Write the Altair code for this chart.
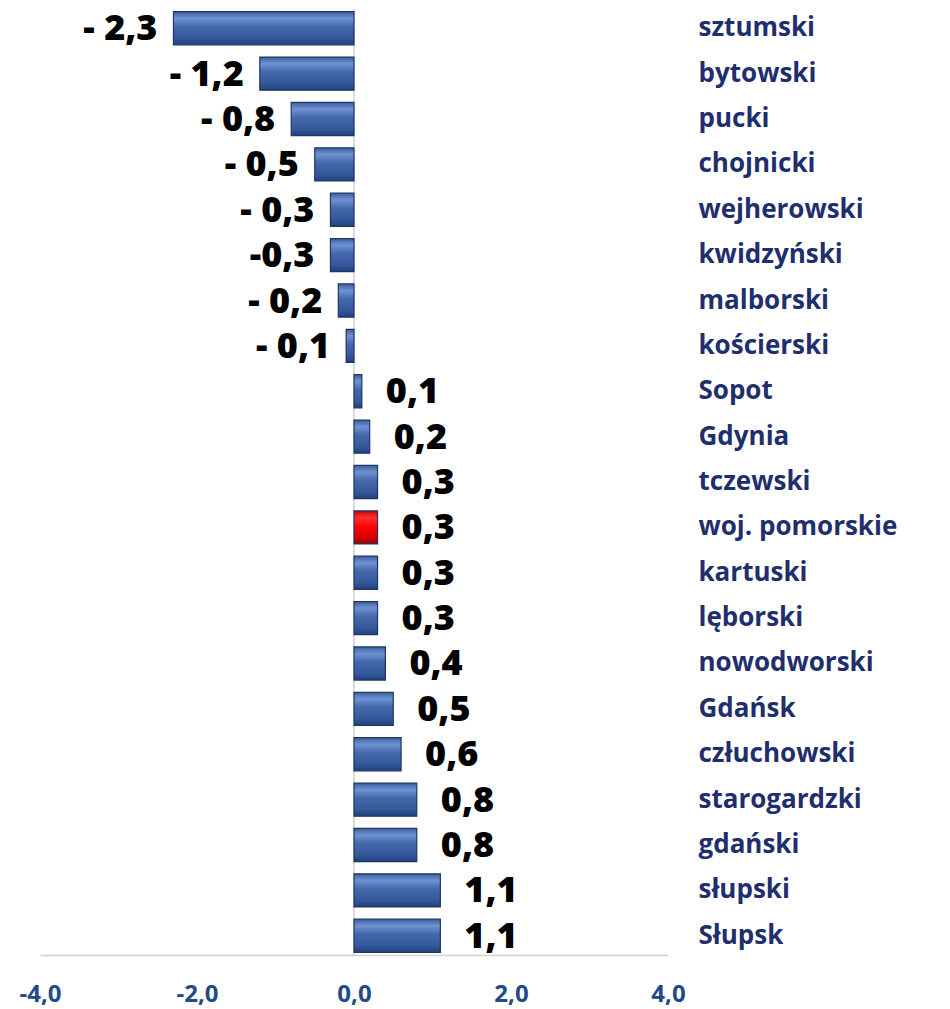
import altair as alt
import pandas as pd

regions = ["sztumski", "bytowski", "pucki", "chojnicki", "wejherowski", "kwidzyński",
           "malborski", "kościerski", "Sopot", "Gdynia", "tczewski", "woj. pomorskie",
           "kartuski", "lęborski", "nowodworski", "Gdańsk", "człuchowski", "starogardzki",
           "gdański", "słupski", "Słupsk"]
values = [-2.3, -1.2, -0.8, -0.5, -0.3, -0.3, -0.2, -0.1, 0.1, 0.2, 0.3, 0.3,
          0.3, 0.3, 0.4, 0.5, 0.6, 0.8, 0.8, 1.1, 1.1]
labels = ["- 2,3", "- 1,2", "- 0,8", "- 0,5", "- 0,3", "-0,3", "- 0,2", "- 0,1",
          "0,1", "0,2", "0,3", "0,3", "0,3", "0,3", "0,4", "0,5", "0,6", "0,8",
          "0,8", "1,1", "1,1"]
highlight = "woj. pomorskie"
tick_values = [-4, -2, 0, 2, 4]

df = pd.DataFrame({"region": regions, "value": values, "label": labels})
df["hl"] = df["region"] == highlight

FONT = "Open Sans"

x_scale = alt.Scale(domain=[-4, 4], nice=False, zero=False)
y_enc = alt.Y("region:N", sort=regions,
              scale=alt.Scale(paddingInner=0.27, paddingOuter=0.06),
              axis=alt.Axis(orient="right", title=None, domain=False, ticks=False,
                            labelPadding=30, labelAlign="left", labelFont=FONT,
                            labelFontSize=26, labelFontWeight="bold",
                            labelLimit=400, labelColor="#1F2F6E"))
x_enc = alt.X("value:Q", scale=x_scale,
              axis=alt.Axis(title=None, values=tick_values, grid=False,
                            ticks=False, domainColor="#D0D0D0", domainWidth=1.5,
                            labelFlush=False, labelOverlap=False,
                            labelPadding=27, labelFont=FONT, labelFontSize=24,
                            labelFontWeight="bold", labelColor="#234A86",
                            labelExpr="replace(replace(format(datum.value, '.1f'), '.', ','), '\u2212', '-')"))

blue_grad = alt.LinearGradient(
    gradient="linear", x1=0, x2=0, y1=0, y2=1,
    stops=[alt.GradientStop(color="#3C5E9E", offset=0),
           alt.GradientStop(color="#6F93D2", offset=0.2),
           alt.GradientStop(color="#4468AC", offset=0.45),
           alt.GradientStop(color="#34589A", offset=0.8),
           alt.GradientStop(color="#22407A", offset=1)])
red_grad = alt.LinearGradient(
    gradient="linear", x1=0, x2=0, y1=0, y2=1,
    stops=[alt.GradientStop(color="#C00000", offset=0),
           alt.GradientStop(color="#FF3030", offset=0.2),
           alt.GradientStop(color="#FF0000", offset=0.5),
           alt.GradientStop(color="#D00000", offset=0.85),
           alt.GradientStop(color="#900000", offset=1)])

base = alt.Chart(df)

zero_rule = alt.Chart(pd.DataFrame({"z": [0]})).mark_rule(
    color="#D0D0D0", strokeWidth=1.5).encode(x=alt.X("z:Q", scale=x_scale))

bars_blue = base.transform_filter("!datum.hl").mark_bar(
    color=blue_grad, stroke="#1E3866", strokeWidth=1.2).encode(
    x=x_enc, x2=alt.datum(0), y=y_enc)
bars_red = base.transform_filter("datum.hl").mark_bar(
    color=red_grad, stroke="#1E3866", strokeWidth=1.2).encode(
    x=x_enc, x2=alt.datum(0), y=y_enc)

text_pos = base.transform_filter("datum.value > 0").mark_text(
    align="left", baseline="middle", dx=24, dy=1, font=FONT, fontSize=36,
    fontWeight=800, color="#000000").encode(x=x_enc, y=y_enc, text="label:N")
text_neg = base.transform_filter("datum.value < 0").mark_text(
    align="right", baseline="middle", dx=-16, dy=1, font=FONT, fontSize=36,
    fontWeight=800, color="#000000").encode(x=x_enc, y=y_enc, text="label:N")

chart = alt.layer(zero_rule, bars_blue, bars_red, text_pos, text_neg).properties(
    width=628, height=946,
    padding={"left": 10, "top": 0, "right": 5, "bottom": 5},
    background="white"
).configure_view(stroke=None)

chart.save("out.html", embed_options={"renderer": "svg", "actions": False})
